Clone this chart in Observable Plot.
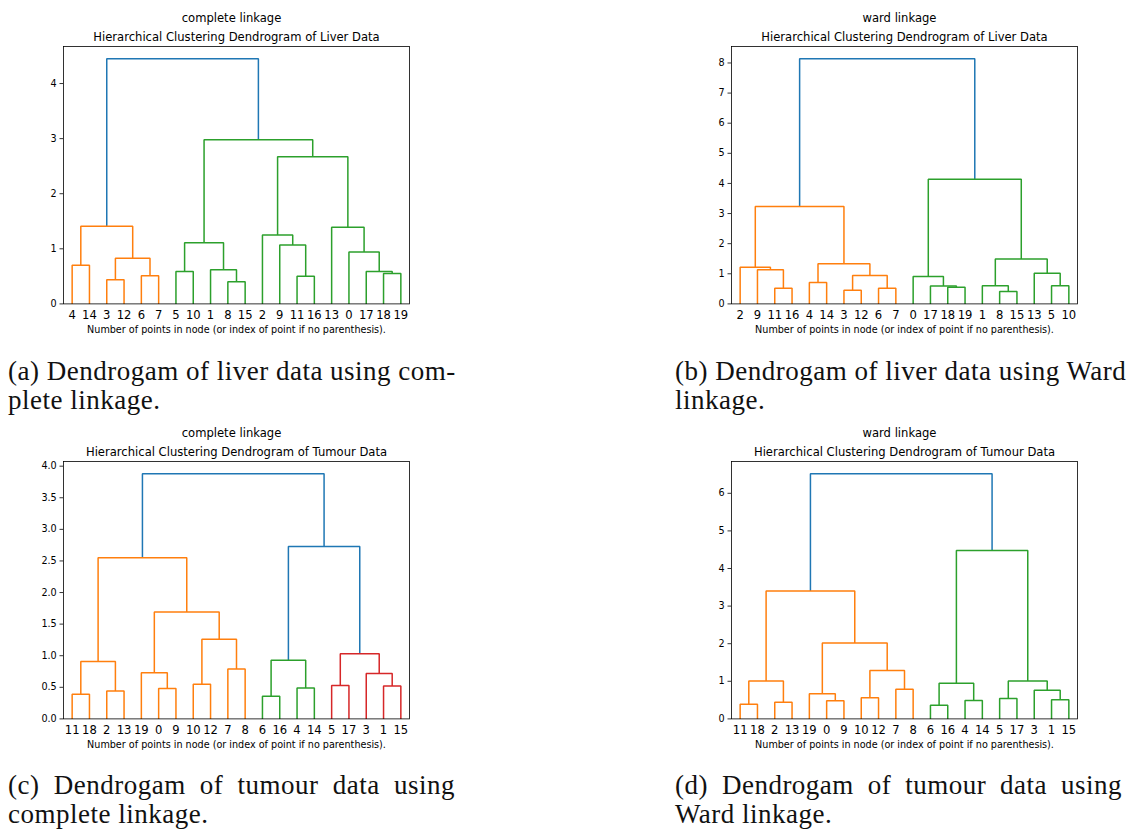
<!DOCTYPE html>
<html>
<head>
<meta charset="utf-8">
<script src="https://cdn.jsdelivr.net/npm/d3@7"></script>
<script src="https://cdn.jsdelivr.net/npm/@observablehq/plot@0.6"></script>
<style>
  body { margin: 0; background: #fff; }
  #page { position: relative; width: 1130px; height: 829px; overflow: hidden; background: #fff; }
  .panel { position: absolute; }
  .cap { position: absolute; width: 447px; font-family: "Liberation Serif", serif; font-size: 27px;
         line-height: 29px; color: #111; letter-spacing: 0.5px; white-space: nowrap; }
  .cap .l1 { text-align: justify; text-align-last: justify; }
</style>
</head>
<body>
<div id="page"></div>
<script>
// Number of observations in each data set (leaves 0..19)
const N = 20;

// Linkage rows: [left child, right child, merge height]. Row i creates node N + i.
const liverCompleteLinks = [
  [4, 14, 0.70], [3, 12, 0.44], [6, 7, 0.51], [21, 22, 0.83], [20, 23, 1.41],
  [5, 10, 0.59], [8, 15, 0.40], [1, 26, 0.62], [25, 27, 1.11],
  [11, 16, 0.50], [9, 29, 1.07], [2, 30, 1.25],
  [18, 19, 0.55], [17, 32, 0.59], [0, 33, 0.94], [13, 34, 1.39],
  [31, 35, 2.67], [28, 36, 2.98], [24, 37, 4.45]
];
const liverWardLinks = [
  [11, 16, 0.52], [9, 20, 1.13], [2, 21, 1.22],
  [4, 14, 0.71], [3, 12, 0.45], [6, 7, 0.52], [24, 25, 0.94], [23, 26, 1.33],
  [22, 27, 3.23],
  [18, 19, 0.55], [17, 29, 0.59], [0, 30, 0.91],
  [8, 15, 0.41], [1, 32, 0.60], [5, 10, 0.60], [13, 34, 1.02], [33, 35, 1.49],
  [31, 36, 4.14], [28, 37, 8.14]
];
const tumourCompleteLinks = [
  [11, 18, 0.39], [2, 13, 0.44], [20, 21, 0.91],
  [0, 9, 0.48], [19, 23, 0.73], [10, 12, 0.55], [7, 8, 0.79], [25, 26, 1.26], [24, 27, 1.69],
  [22, 28, 2.55],
  [6, 16, 0.36], [4, 14, 0.49], [30, 31, 0.93],
  [5, 17, 0.53], [1, 15, 0.52], [3, 34, 0.72], [33, 35, 1.03],
  [32, 36, 2.73], [29, 37, 3.88]
];
const tumourWardLinks = [
  [11, 18, 0.39], [2, 13, 0.44], [20, 21, 1.01],
  [0, 9, 0.48], [19, 23, 0.67], [10, 12, 0.56], [7, 8, 0.79], [25, 26, 1.29], [24, 27, 2.02],
  [22, 28, 3.40],
  [6, 16, 0.36], [4, 14, 0.49], [30, 31, 0.95],
  [5, 17, 0.54], [1, 15, 0.51], [3, 34, 0.76], [33, 35, 1.01],
  [32, 36, 4.48], [29, 37, 6.52]
];

// Y-axis tick values
const liverCompleteTicks = [0, 1, 2, 3, 4];
const liverWardTicks = [0, 1, 2, 3, 4, 5, 6, 7, 8];
const tumourCompleteTicks = [0, 0.5, 1, 1.5, 2, 2.5, 3, 3.5, 4];
const tumourWardTicks = [0, 1, 2, 3, 4, 5, 6];

// Texts
const subtitles = ["complete linkage", "ward linkage", "complete linkage", "ward linkage"];
const titles = [
  "Hierarchical Clustering Dendrogram of Liver Data",
  "Hierarchical Clustering Dendrogram of Liver Data",
  "Hierarchical Clustering Dendrogram of Tumour Data",
  "Hierarchical Clustering Dendrogram of Tumour Data"
];
const xLabel = "Number of points in node (or index of point if no parenthesis).";
const captions = [
  ["(a) Dendrogam of liver data using com-", "plete linkage."],
  ["(b) Dendrogam of liver data using Ward", "linkage."],
  ["(c) Dendrogam of tumour data using", "complete linkage."],
  ["(d) Dendrogam of tumour data using", "Ward linkage."]
];

// Link colours: C0 above the colour threshold, C1.. for each cluster below it
const linkColorKeys = ["C0", "C1", "C2", "C3"];
const linkColors = ["#1f77b4", "#ff7f0e", "#2ca02c", "#d62728"];

// Panel geometry
const FW = 346, FH = 257.4;
const ML = 50, MR = 12, MT = 50, MB = 40;
const frames = [[63.3, 45.7], [730.7, 45.7], [63.3, 461.1], [730.7, 461.1]];
const capPos = [[8, 357], [675, 357], [8, 770.5], [675, 770.5]];

// Dendrogram layout in the usual leaf coordinates (5, 15, 25, ...)
function layout(links) {
  const order = [];
  function place(id) {
    if (id < N) { const x = 5 + 10 * order.length; order.push(id); return {x, h: 0}; }
    const [a, b, h] = links[id - N];
    const L = place(a), R = place(b);
    return {id, x: (L.x + R.x) / 2, h, L, R};
  }
  const root = place(N + links.length - 1);
  const threshold = 0.7 * root.h;
  const segs = [];
  let k = 0;
  (function walk(node, cluster) {
    if (!node.L) return;
    let c = cluster;
    if (c == null && node.h < threshold) c = linkColorKeys[1 + (k++ % 3)];
    const col = c ?? "C0";
    segs.push(
      {id: node.id, x: node.L.x, y: node.L.h, c: col},
      {id: node.id, x: node.L.x, y: node.h, c: col},
      {id: node.id, x: node.R.x, y: node.h, c: col},
      {id: node.id, x: node.R.x, y: node.R.h, c: col}
    );
    walk(node.L, c);
    walk(node.R, c);
  })(root, null);
  return {order, segs, top: root.h};
}

function dendrogram(links, ticks, tickFormat, sub, title) {
  const {order, segs, top} = layout(links);
  const leafX = order.map((_, i) => 5 + 10 * i);
  return Plot.plot({
    width: ML + FW + MR,
    height: MT + FH + MB,
    marginLeft: ML, marginRight: MR, marginTop: MT, marginBottom: MB,
    x: {domain: [0, 10 * N], axis: null},
    y: {domain: [0, top * 1.05], axis: null},
    color: {domain: linkColorKeys, range: linkColors},
    style: {fontFamily: "DejaVu Sans", color: "#000", background: "transparent", overflow: "visible"},
    marks: [
      Plot.line(segs, {x: "x", y: "y", z: "id", stroke: "c", strokeWidth: 1.5,
                       strokeLinejoin: "miter", strokeLinecap: "butt", curve: "linear"}),
      Plot.axisY({ticks, tickFormat, tickSize: 3.5, tickPadding: 3.3, fontSize: 9.65,
                  label: null, strokeWidth: 0.8}),
      Plot.axisX({ticks: leafX, tickFormat: (d) => String(order[Math.round((d - 5) / 10)]),
                  tickSize: 0, tickPadding: 6.8, fontSize: 11.6, label: null}),
      Plot.frame({stroke: "#000", strokeWidth: 0.8}),
      Plot.text([xLabel], {text: (d) => d, frameAnchor: "bottom", dy: 29.6, fontSize: 9.65}),
      Plot.text([title], {text: (d) => d, frameAnchor: "top", dy: -14.2, fontSize: 11.6}),
      Plot.text([sub], {text: (d) => d, frameAnchor: "top", dy: -33.2, dx: -5, fontSize: 11.6})
    ]
  });
}

const page = document.getElementById("page");
const specs = [
  [liverCompleteLinks, liverCompleteTicks, d3.format("d")],
  [liverWardLinks, liverWardTicks, d3.format("d")],
  [tumourCompleteLinks, tumourCompleteTicks, d3.format(".1f")],
  [tumourWardLinks, tumourWardTicks, d3.format("d")]
];
specs.forEach(([links, ticks, fmt], i) => {
  const svg = dendrogram(links, ticks, fmt, subtitles[i], titles[i]);
  const wrap = document.createElement("div");
  wrap.className = "panel";
  wrap.style.left = (frames[i][0] - ML) + "px";
  wrap.style.top = (frames[i][1] - MT) + "px";
  wrap.appendChild(svg);
  page.appendChild(wrap);

  const cap = document.createElement("div");
  cap.className = "cap";
  cap.style.left = capPos[i][0] + "px";
  cap.style.top = capPos[i][1] + "px";
  const l1 = document.createElement("div");
  l1.className = "l1";
  l1.textContent = captions[i][0];
  const l2 = document.createElement("div");
  l2.textContent = captions[i][1];
  cap.appendChild(l1);
  cap.appendChild(l2);
  page.appendChild(cap);
});
</script>
</body>
</html>
